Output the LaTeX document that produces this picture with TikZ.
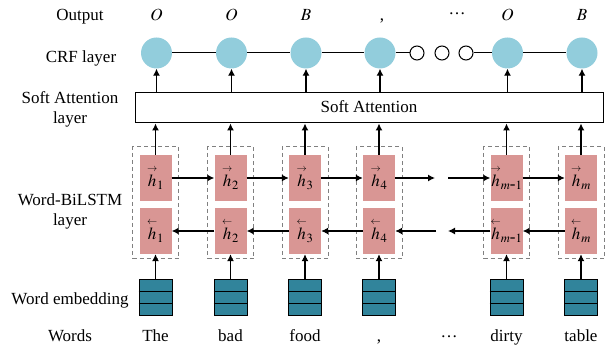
\documentclass[tikz,border=0pt]{standalone}
\usepackage{amsmath}
\usepackage{mathptmx}
\usepackage{fontspec}
\setmainfont{Liberation Serif}
\usetikzlibrary{arrows.meta}

\definecolor{crfblue}{HTML}{92CDDC}
\definecolor{lstmpink}{HTML}{D99694}
\definecolor{embteal}{HTML}{31849B}

% hidden-state symbols with small direction arrows
\newcommand{\fw}[1]{\overset{\scriptscriptstyle\rightarrow}{#1}}
\newcommand{\bw}[1]{\overset{\scriptscriptstyle\leftarrow}{#1}}

\begin{document}
\begin{tikzpicture}[x=1pt,y=-1pt,
  every node/.style={font=\fontsize{17}{20}\selectfont},
  crf/.style={circle, fill=crfblue, minimum size=31pt, inner sep=0pt},
  dotnode/.style={circle, draw, fill=white, line width=1pt, minimum size=14pt, inner sep=0pt},
  cell/.style={fill=lstmpink, minimum width=32pt, minimum height=46pt, inner sep=0pt},
  grp/.style={draw=gray, dash pattern=on 4pt off 3pt, line width=1pt, minimum width=46pt, minimum height=112pt, inner sep=0pt},
  emb/.style={draw, fill=embteal, line width=1pt, minimum width=33pt, minimum height=36pt, inner sep=0pt},
  arr/.style={-{Latex[length=7pt,width=7pt]}, line width=1.2pt},
  lbl/.style={anchor=base, align=center},
]
\useasboundingbox (0,0) rectangle (614,347);

% soft attention box
\node[draw, line width=1pt, minimum width=468pt, minimum height=30pt, inner sep=0pt] (att) at (369,108) {};
\node[anchor=base] (atttxt) at (369,113) {Soft Attention};

% columns: dashed BiLSTM group, forward/backward cells, CRF circle, embedding stack
\foreach \i/\x/\s in {1/155.5/1, 2/230.5/2, 3/305/3, 4/379/4, 5/506.5/{m\mbox{-}1}, 6/581/m} {
  \node[grp] (g\i) at (\x,203) {};
  \node[cell] (f\i) at (\x,178) {$\fw{h}_{\s}$};
  \node[cell] (b\i) at (\x,231) {$\bw{h}_{\s}$};
  \node[crf] (r\i) at (\x+1,53) {};
  \node[emb] (e\i) at (\x,298) {};
  \draw[line width=1pt] ([yshift=6pt]e\i.west) -- ([yshift=6pt]e\i.east);
  \draw[line width=1pt] ([yshift=-6pt]e\i.west) -- ([yshift=-6pt]e\i.east);
  \draw[arr] (e\i.north) -- (b\i.south);
  \draw[arr] (f\i.north) -- (att.south -| f\i);
  \draw[arr] (att.north -| r\i) -- (r\i.south);
}

% open circles between CRF nodes
\node[dotnode] (d1) at (417,53) {};
\node[dotnode] (d2) at (442,53) {};
\node[dotnode] (d3) at (466,53) {};
\draw[line width=1pt] (r1) -- (r2) -- (r3) -- (r4) -- (d1);
\draw[line width=1pt] (d3) -- (r5) -- (r6);

% forward LSTM chain
\coordinate (fa) at (435,178);
\coordinate (fb) at (448,178);
\draw[arr] (f1.east) -- (f2.west);
\draw[arr] (f2.east) -- (f3.west);
\draw[arr] (f3.east) -- (f4.west);
\draw[arr] (f4.east) -- (fa);
\draw[arr] (fb) -- (f5.west);
\draw[arr] (f5.east) -- (f6.west);

% backward LSTM chain
\coordinate (ba) at (436,231);
\coordinate (bb) at (448,231);
\draw[arr] (b2.west) -- (b1.east);
\draw[arr] (b3.west) -- (b2.east);
\draw[arr] (b4.west) -- (b3.east);
\draw[arr] (ba) -- (b4.east);
\draw[arr] (b5.west) -- (bb);
\draw[arr] (b6.west) -- (b5.east);

% output tags
\node[anchor=base] (o1) at (156.5,21) {$O$};
\node[anchor=base] (o2) at (231.5,21) {$O$};
\node[anchor=base] (o3) at (306,21) {$B$};
\node[anchor=base] (o4) at (382,21) {,};
\node[anchor=base] (o5) at (457,21) {\raisebox{6pt}{…}};
\node[anchor=base] (o6) at (507.5,21) {$O$};
\node[anchor=base] (o7) at (582,21) {$B$};

% input words
\node[anchor=base] (w1) at (155.5,342) {The};
\node[anchor=base] (w2) at (230.5,342) {bad};
\node[anchor=base] (w3) at (305,342) {food};
\node[anchor=base] (w4) at (379,342) {,};
\node[anchor=base] (w5) at (449,342) {\raisebox{4pt}{…}};
\node[anchor=base] (w6) at (506.5,342) {dirty};
\node[anchor=base] (w7) at (581,342) {table};

% layer names
\node[lbl] (lout) at (80,21) {Output};
\node[lbl] (lcrf) at (81,63) {CRF layer};
\node[lbl] (latt) at (70,124) {Soft Attention\\layer};
\node[lbl] (llstm) at (70,226) {Word-BiLSTM\\layer};
\node[lbl] (lemb) at (70,305) {Word embedding};
\node[lbl] (lwords) at (70,342) {Words};
\end{tikzpicture}
\end{document}
